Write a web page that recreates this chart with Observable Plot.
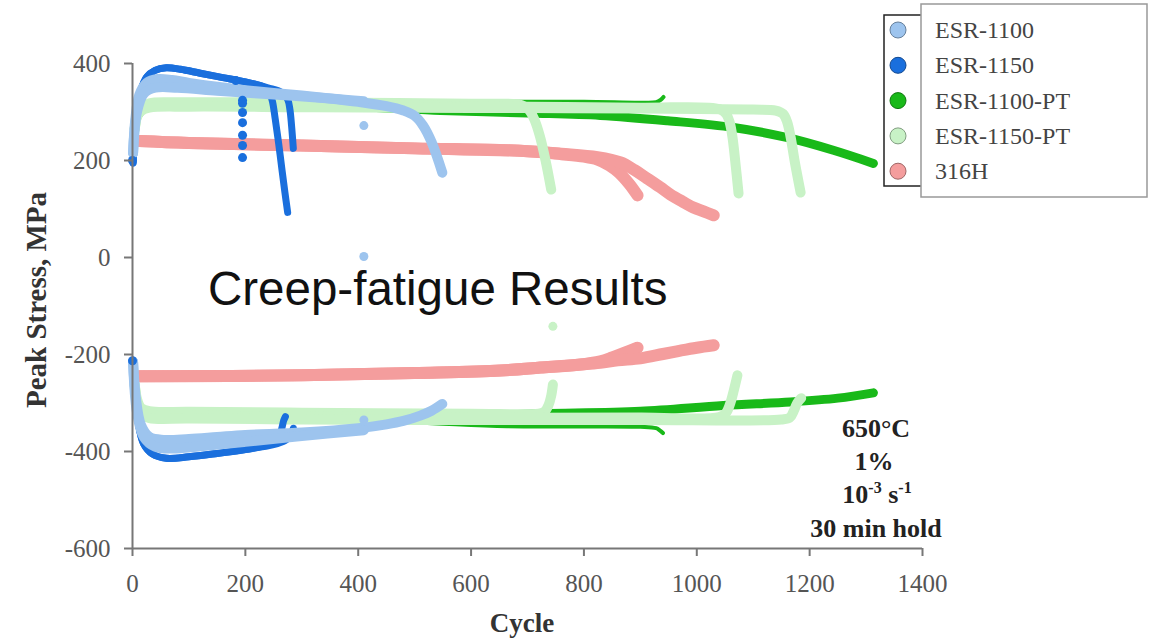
<!DOCTYPE html>
<html><head><meta charset="utf-8">
<script src="https://cdn.jsdelivr.net/npm/d3@7"></script>
<script src="https://cdn.jsdelivr.net/npm/@observablehq/plot@0.6"></script>
<style>
body{margin:0;background:#fff}
#wrap{position:relative;width:1157px;height:641px;overflow:hidden}
#wrap svg{position:absolute;left:0;top:0}
</style>
</head><body><div id="wrap"></div>
<script>
// ---------- categories / ticks ----------
const seriesNames = ["ESR-1100", "ESR-1150", "ESR-1100-PT", "ESR-1150-PT", "316H"];
const seriesColors = ["#9dc4ee", "#1a6fdd", "#19b919", "#c8f2c6", "#f49d9d"];
const xTicks = [0, 200, 400, 600, 800, 1000, 1200, 1400];
const yTicks = [-600, -400, -200, 0, 200, 400];

// ---------- ESR-1100 (cycle, peak stress MPa) ----------
const esr1100TensionA = [[1,215],[5,285],[12,335],[25,360],[45,368],[70,366],[100,360],[150,352],[200,345],[250,339],[300,334],[350,328],[400,321],[450,312],[480,303],[500,292],[515,272],[530,238],[549,175]];
const esr1100TensionB = [[1,215],[8,300],[20,338],[40,350],[80,350],[150,344],[250,336],[350,328],[410,322]];
const esr1100CompA = [[1,-215],[6,-290],[15,-345],[30,-370],[55,-376],[100,-374],[150,-370],[200,-366],[300,-361],[400,-352],[450,-344],[480,-337],[510,-326],[530,-316],[549,-302]];
const esr1100CompB = [[1,-215],[8,-320],[20,-370],[40,-390],[70,-394],[120,-389],[200,-380],[300,-368],[410,-356]];
const esr1100Dots = [[410,272],[410,2],[410,-335]];

// ---------- ESR-1150 ----------
const esr1150TensionA = [[1,195],[3,245],[8,305],[15,345],[25,372],[40,386],[60,391],[85,388],[120,380],[160,371],[200,362],[235,350],[244,336],[248,322],[253,285],[259,235],[265,180],[270,135],[275,93]];
const esr1150TensionB = [[1,195],[3,245],[8,305],[15,345],[25,372],[40,386],[60,391],[85,388],[120,380],[160,371],[200,362],[240,350],[265,340],[275,326],[279,305],[282,270],[285,225]];
const esr1150CompA = [[1,-212],[4,-270],[10,-340],[20,-385],[35,-405],[60,-414],[100,-411],[150,-404],[200,-396],[240,-386],[258,-375],[264,-355],[268,-336],[271,-328]];
const esr1150CompB = [[1,-212],[4,-270],[10,-340],[20,-385],[35,-405],[60,-414],[100,-411],[150,-404],[200,-396],[250,-386],[270,-378],[280,-368],[285,-352]];
const esr1150Dots = [[0,200],[0,-213],[183,365],[195,324],[195,318],[195,299],[195,278],[195,252],[195,231],[195,206]];

// ---------- ESR-1100-PT ----------
const esr1100ptTensionA = [[6,290],[20,312],[60,318],[300,320],[600,321],[800,321],[900,319],[928,320],[936,325],[941,331]];
const esr1100ptTensionB = [[6,285],[20,307],[60,313],[300,313],[420,310],[546,303],[700,298],[829,293],[948,282],[1065,268],[1161,247],[1242,221],[1313,194]];
const esr1100ptCompA = [[6,-300],[20,-325],[60,-333],[300,-335],[500,-340],[664,-348],[900,-349],[928,-352],[935,-357],[940,-362]];
const esr1100ptCompB = [[6,-295],[20,-318],[60,-326],[300,-328],[600,-326],[728,-322],[900,-317],[1047,-305],[1166,-298],[1250,-290],[1313,-279]];

// ---------- ESR-1150-PT ----------
const esr1150ptTensionA = [[4,265],[8,292],[15,308],[30,318],[80,320],[200,320],[400,319],[600,317],[690,314],[702,305],[712,285],[722,250],[732,200],[742,140]];
const esr1150ptTensionB = [[4,265],[8,292],[15,305],[30,313],[100,315],[300,315],[500,313],[700,311],[900,309],[1040,306],[1052,296],[1058,280],[1063,250],[1068,200],[1074,132]];
const esr1150ptTensionC = [[4,265],[8,290],[15,302],[30,309],[100,311],[300,310],[500,309],[700,308],[900,307],[1100,305],[1140,303],[1153,296],[1160,280],[1166,250],[1174,195],[1184,134]];
const esr1150ptCompA = [[4,-262],[8,-292],[15,-310],[30,-317],[100,-318],[300,-320],[600,-322],[720,-322],[730,-318],[737,-305],[742,-285],[745,-262]];
const esr1150ptCompB = [[4,-262],[8,-298],[15,-318],[30,-325],[100,-326],[300,-328],[600,-330],[900,-330],[1040,-329],[1052,-320],[1060,-298],[1066,-272],[1072,-243]];
const esr1150ptCompC = [[4,-262],[8,-300],[15,-322],[30,-331],[100,-332],[300,-334],[600,-335],[900,-335],[1150,-334],[1165,-330],[1172,-316],[1178,-300],[1185,-290]];
const esr1150ptDots = [[745,-142]];

// ---------- 316H ----------
const h316TensionA = [[12,240],[100,236],[300,231],[500,225],[687,220],[760,213],[800,208],[824,202],[845,190],[862,175],[880,152],[895,128]];
const h316TensionB = [[12,240],[100,236],[300,231],[500,225],[687,220],[760,214],[824,207],[865,196],[890,180],[912,163],[935,145],[953,130],[975,115],[994,103],[1012,95],[1030,87]];
const h316CompA = [[12,-245],[300,-243],[500,-238],[652,-233],[723,-227],[790,-221],[829,-214],[850,-206],[870,-197],[895,-186]];
const h316CompB = [[12,-245],[300,-243],[500,-238],[652,-233],[723,-227],[790,-221],[829,-217],[860,-212],[900,-208],[940,-199],[971,-192],[1000,-186],[1030,-181]];

// ---------- build tables ----------
const traces = [
  ["ESR-1100", "tA", esr1100TensionA], ["ESR-1100", "tB", esr1100TensionB],
  ["ESR-1100", "cA", esr1100CompA], ["ESR-1100", "cB", esr1100CompB],
  ["ESR-1150", "tA", esr1150TensionA], ["ESR-1150", "tB", esr1150TensionB],
  ["ESR-1150", "cA", esr1150CompA], ["ESR-1150", "cB", esr1150CompB],
  ["ESR-1100-PT", "tA", esr1100ptTensionA], ["ESR-1100-PT", "tB", esr1100ptTensionB],
  ["ESR-1100-PT", "cA", esr1100ptCompA], ["ESR-1100-PT", "cB", esr1100ptCompB],
  ["ESR-1150-PT", "tA", esr1150ptTensionA], ["ESR-1150-PT", "tB", esr1150ptTensionB], ["ESR-1150-PT", "tC", esr1150ptTensionC],
  ["ESR-1150-PT", "cA", esr1150ptCompA], ["ESR-1150-PT", "cB", esr1150ptCompB], ["ESR-1150-PT", "cC", esr1150ptCompC],
  ["316H", "tA", h316TensionA], ["316H", "tB", h316TensionB],
  ["316H", "cA", h316CompA], ["316H", "cB", h316CompB]
];
const rows = traces.flatMap(([series, id, pts]) =>
  pts.map(([cycle, stress]) => ({series, spec: id, trace: series + id, cycle, stress})));
const dotRows = [["ESR-1100", esr1100Dots], ["ESR-1150", esr1150Dots], ["ESR-1150-PT", esr1150ptDots]]
  .flatMap(([series, pts]) => pts.map(([cycle, stress]) => ({series, cycle, stress})));

const pick = (s, f = () => true) => rows.filter(d => d.series === s && f(d));
const lineOpts = w => ({x: "cycle", y: "stress", z: "trace", stroke: "series", strokeWidth: w,
  strokeLinecap: "round", strokeLinejoin: "round", curve: "catmull-rom"});

const chart = Plot.plot({
  width: 1157, height: 641,
  marginLeft: 132, marginRight: 235, marginTop: 63, marginBottom: 93,
  x: {domain: [0, 1400], axis: null},
  y: {domain: [-600, 400], axis: null},
  color: {domain: seriesNames, range: seriesColors},
  style: {background: "transparent", fontFamily: "Liberation Serif"},
  marks: [
    Plot.line(pick("316H"), lineOpts(12)),
    Plot.line(pick("ESR-1100-PT", d => d.spec.endsWith("B")), lineOpts(9)),
    Plot.line(pick("ESR-1100-PT", d => d.spec.endsWith("A")), lineOpts(4)),
    Plot.line(pick("ESR-1150-PT"), lineOpts(10)),
    Plot.line(pick("ESR-1150"), lineOpts(7)),
    Plot.line(pick("ESR-1100"), lineOpts(10)),
    Plot.dot(dotRows, {x: "cycle", y: "stress", fill: "series", r: 4.5}),
    Plot.ruleX([0], {stroke: "#777", strokeWidth: 2}),
    Plot.ruleY([-600], {stroke: "#777", strokeWidth: 2}),
    Plot.axisY(yTicks, {tickSize: 8, tickPadding: 14, fontSize: 25, stroke: "#777", strokeWidth: 2, fill: "#555",
      tickFormat: d => String(d), label: null}),
    Plot.axisX(xTicks, {tickSize: 8, tickPadding: 18, fontSize: 25, stroke: "#777", strokeWidth: 2, fill: "#555",
      tickFormat: d => String(d), label: null})
  ]
});
document.getElementById("wrap").appendChild(chart);

// ---------- overlay texts and legend ----------
const ov = d3.create("svg").attr("width", 1157).attr("height", 641)
  .style("font-family", "'Liberation Serif', serif");
// axis titles
ov.append("text").attr("transform", "translate(36,300) rotate(-90)").attr("dy", "0.35em")
  .attr("text-anchor", "middle").attr("font-weight", "bold").attr("font-size", 29).attr("fill", "#333")
  .text("Peak Stress, MPa");
ov.append("text").attr("x", 522).attr("y", 632).attr("text-anchor", "middle")
  .attr("font-weight", "bold").attr("font-size", 27).attr("fill", "#333").text("Cycle");
// title
ov.append("text").attr("x", 208).attr("y", 305).attr("font-family", "'Liberation Sans', Arial, sans-serif")
  .attr("font-size", 47.5).attr("fill", "#111").text("Creep-fatigue Results");
// conditions annotation
const ann = ov.append("g").attr("font-weight", "bold").attr("font-size", 26).attr("fill", "#222").attr("text-anchor", "middle");
ann.append("text").attr("x", 876).attr("y", 437).text("650°C");
ann.append("text").attr("x", 874).attr("y", 470).text("1%");
const rate = ann.append("text").attr("x", 877).attr("y", 503);
rate.append("tspan").text("10");
rate.append("tspan").attr("dy", -10).attr("font-size", 16).text("-3");
rate.append("tspan").attr("dy", 10).text(" s");
rate.append("tspan").attr("dy", -10).attr("font-size", 16).text("-1");
ann.append("text").attr("x", 876).attr("y", 537).text("30 min hold");
// legend
ov.append("rect").attr("x", 884).attr("y", 15).attr("width", 70).attr("height", 171)
  .attr("fill", "#fff").attr("stroke", "#222").attr("stroke-width", 1.5);
ov.append("rect").attr("x", 921).attr("y", 4).attr("width", 226).attr("height", 193)
  .attr("fill", "#fff").attr("stroke", "#999").attr("stroke-width", 1.5);
seriesNames.forEach((name, i) => {
  const cy = 30 + 35.3 * i;
  ov.append("circle").attr("cx", 898).attr("cy", cy).attr("r", 8)
    .attr("fill", seriesColors[i]).attr("stroke", d3.color(seriesColors[i]).darker(1.2)).attr("stroke-width", 1);
  ov.append("text").attr("x", 935).attr("y", cy).attr("dy", "0.33em").attr("font-size", 24)
    .attr("fill", "#444").text(name);
});
document.getElementById("wrap").appendChild(ov.node());
</script></body></html>
